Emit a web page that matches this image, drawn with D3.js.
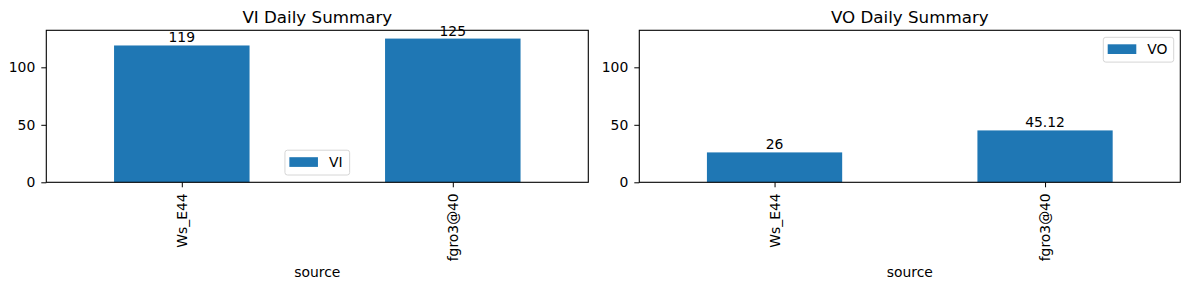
<!DOCTYPE html>
<html>
<head>
<meta charset="utf-8">
<script src="https://cdn.jsdelivr.net/npm/d3@7"></script>
<style>
  html, body { margin: 0; padding: 0; background: #fff; }
  svg { display: block; font-family: "DejaVu Sans", sans-serif; }
</style>
</head>
<body>
<div id="chart"></div>
<script>
// Data
const SOURCES = ['Ws_E44', 'fgro3@40'];
const VI_VALUES = [119, 125];
const VO_VALUES = [26, 45.12];
const Y_TICKS = [0, 50, 100];

const WIDTH = 1189;
const HEIGHT = 290;
const BAR_COLOUR = '#1f77b4';
const FONT = '"DejaVu Sans", sans-serif';
const LABEL_SIZE = '13.9px';

// plot frames (pixel layout of the two panels)
const TOP = 30.3;
const BOTTOM = 182.3;
const PANELS = [
  { left: 46.3, width: 542, title: 'VI Daily Summary', name: 'VI', values: VI_VALUES, legend: 'lower center' },
  { left: 639.3, width: 541, title: 'VO Daily Summary', name: 'VO', values: VO_VALUES, legend: 'upper right' }
];

const svg = d3.select('#chart')
  .append('svg')
  .attr('width', WIDTH)
  .attr('height', HEIGHT);

const y = d3.scaleLinear().domain([0, 132.2]).range([BOTTOM, TOP]);

function drawPanel(p) {
  const innerW = p.width;
  const g = svg.append('g').attr('transform', `translate(${p.left},0)`);

  // pandas-style categorical axis: xlim -0.5..n-0.5, bar width 0.5
  const x = d3.scaleLinear().domain([-0.5, SOURCES.length - 0.5]).range([0, innerW]);
  const barW = x(0.25) - x(-0.25);

  // bars
  g.selectAll('rect.bar')
    .data(p.values)
    .join('rect')
    .attr('class', 'bar')
    .attr('x', (d, i) => x(i) - barW / 2)
    .attr('y', d => y(d))
    .attr('width', barW)
    .attr('height', d => BOTTOM - y(d))
    .attr('fill', BAR_COLOUR);

  // bar labels
  g.selectAll('text.barlabel')
    .data(p.values)
    .join('text')
    .attr('class', 'barlabel')
    .attr('x', (d, i) => x(i))
    .attr('y', d => y(d) - 3)
    .attr('text-anchor', 'middle')
    .style('font-size', LABEL_SIZE)
    .style('fill', '#000')
    .text(d => String(d));

  // y axis
  const yAxis = g.append('g')
    .call(d3.axisLeft(y).tickValues(Y_TICKS).tickSize(5).tickPadding(6).tickSizeOuter(0));
  yAxis.select('.domain').remove();
  yAxis.selectAll('text').style('font-size', LABEL_SIZE).style('font-family', FONT).attr('fill', '#000');
  yAxis.selectAll('line').attr('stroke', '#000');

  // x axis with rotated category labels
  const xAxis = g.append('g')
    .attr('transform', `translate(0,${BOTTOM})`)
    .call(d3.axisBottom(x).tickValues(SOURCES.map((s, i) => i)).tickFormat(i => SOURCES[i]).tickSize(5).tickSizeOuter(0));
  xAxis.select('.domain').remove();
  xAxis.selectAll('line').attr('stroke', '#000');
  xAxis.selectAll('text')
    .attr('transform', 'rotate(-90)')
    .attr('x', -11)
    .attr('y', 0)
    .attr('dy', '0.35em')
    .attr('text-anchor', 'end')
    .attr('fill', '#000')
    .style('font-size', LABEL_SIZE)
    .style('font-family', FONT);

  // frame
  g.append('rect')
    .attr('x', 0)
    .attr('y', TOP)
    .attr('width', innerW)
    .attr('height', BOTTOM - TOP)
    .attr('fill', 'none')
    .attr('stroke', '#000')
    .attr('stroke-width', 1.1);

  // title
  g.append('text')
    .attr('x', innerW / 2)
    .attr('y', 22.7)
    .attr('text-anchor', 'middle')
    .style('font-size', '16.7px')
    .text(p.title);

  // x-axis label
  g.append('text')
    .attr('x', innerW / 2)
    .attr('y', 277.3)
    .attr('text-anchor', 'middle')
    .style('font-size', LABEL_SIZE)
    .text('source');

  // legend
  const boxW = p.name === 'VI' ? 64.7 : 70.4;
  const boxH = 24.8;
  let lx, ly;
  if (p.legend === 'lower center') {
    lx = innerW / 2 - boxW / 2;
    ly = BOTTOM - 7.3 - boxH;
  } else {
    lx = innerW - 6.6 - boxW;
    ly = TOP + 7;
  }
  const lg = g.append('g').attr('transform', `translate(${lx},${ly})`);
  lg.append('rect')
    .attr('width', boxW)
    .attr('height', boxH)
    .attr('rx', 2.5)
    .attr('fill', 'rgba(255,255,255,0.8)')
    .attr('stroke', '#d6d6d6')
    .attr('stroke-width', 1);
  lg.append('rect')
    .attr('x', 4.4)
    .attr('y', 7)
    .attr('width', 28.6)
    .attr('height', 9.7)
    .attr('fill', BAR_COLOUR);
  lg.append('text')
    .attr('x', 44)
    .attr('y', 11.9)
    .attr('dy', '0.35em')
    .style('font-size', LABEL_SIZE)
    .text(p.name);
}

PANELS.forEach(drawPanel);
</script>
</body>
</html>
